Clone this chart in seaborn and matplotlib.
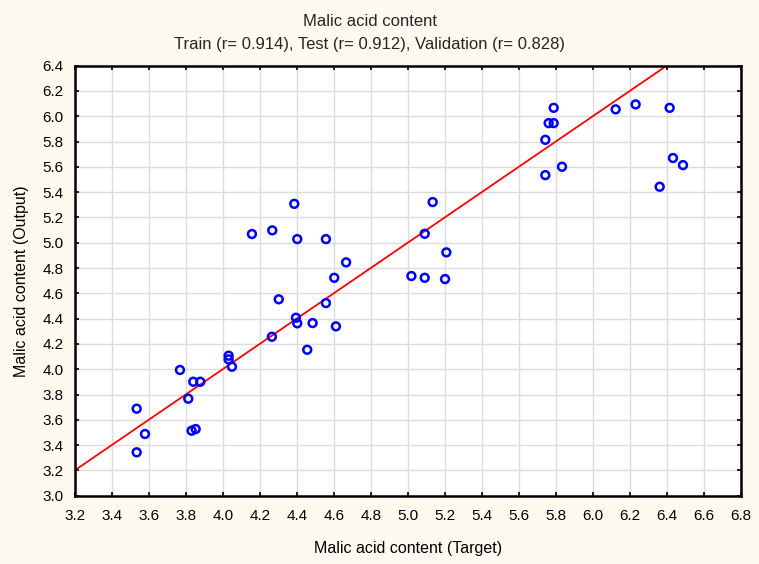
import matplotlib
matplotlib.use("Agg")
import matplotlib.pyplot as plt
import seaborn as sns
import pandas as pd
import numpy as np

target = [4.158, 4.268, 4.387, 4.403,
          3.535, 3.535, 3.580, 3.769, 3.814, 3.841, 3.879, 3.832, 3.854,
          4.032, 4.032, 4.050, 4.266, 4.303, 4.396, 4.403, 4.457, 4.486,
          4.558, 4.667, 4.603, 4.558, 4.612,
          5.135, 5.092, 5.209, 5.020, 5.092, 5.202,
          5.789, 5.762, 5.789, 5.744, 5.834, 5.744,
          6.124, 6.232, 6.416, 6.434, 6.488, 6.362]
output = [5.069, 5.098, 5.308, 5.029,
          3.688, 3.343, 3.488, 3.994, 3.767, 3.901, 3.901, 3.514, 3.527,
          4.107, 4.078, 4.020, 4.257, 4.553, 4.407, 4.363, 4.154, 4.365,
          5.029, 4.845, 4.723, 4.523, 4.339,
          5.322, 5.071, 4.924, 4.737, 4.723, 4.713,
          6.067, 5.946, 5.946, 5.814, 5.601, 5.535,
          6.055, 6.094, 6.067, 5.670, 5.614, 5.443]
fit_x = [3.2, 6.4]
fit_y = [3.2, 6.4]
x_ticks = [3.2, 3.4, 3.6, 3.8, 4.0, 4.2, 4.4, 4.6, 4.8, 5.0, 5.2, 5.4, 5.6, 5.8, 6.0, 6.2, 6.4, 6.6, 6.8]
y_ticks = [3.0, 3.2, 3.4, 3.6, 3.8, 4.0, 4.2, 4.4, 4.6, 4.8, 5.0, 5.2, 5.4, 5.6, 5.8, 6.0, 6.2, 6.4]

sns.set_theme(style="white")
plt.rcParams['font.family'] = ['Liberation Sans Narrow', 'Liberation Sans', 'DejaVu Sans']

bg = "#fefaf0"
fig = plt.figure(figsize=(7.59, 5.64), dpi=100, facecolor=bg)
ax = fig.add_axes([0.0984, 0.1211, 0.8775, 0.7624])
ax.set_facecolor("white")

df = pd.DataFrame({"Target": target, "Output": output})
sns.lineplot(x=fit_x, y=fit_y, ax=ax, color="#ff0000", linewidth=1.3, zorder=2)
sns.scatterplot(data=df, x="Target", y="Output", ax=ax, marker="o", s=32,
                facecolor="none", edgecolor="#0000ff", linewidth=1.8, zorder=3)

ax.set_xlim(3.2, 6.8)
ax.set_ylim(3.0, 6.4)
ax.set_xticks(x_ticks)
ax.set_yticks(y_ticks)
ax.set_xticklabels([f"{v:.1f}" for v in x_ticks])
ax.set_yticklabels([f"{v:.1f}" for v in y_ticks])
ax.grid(True, color="#dcdcdc", linewidth=1.0, zorder=0)
ax.set_axisbelow(True)
ax.tick_params(direction="in", length=3, width=1.2, color="black",
               top=True, right=True, bottom=True, left=True,
               labelsize=11, labelcolor="black")
ax.tick_params(axis="x", pad=9.5)
ax.tick_params(axis="y", pad=8)
for sp in ax.spines.values():
    sp.set_visible(True)
    sp.set_color("black")
    sp.set_linewidth(1.8)

ax.set_xlabel("Malic acid content (Target)", fontsize=11.5, labelpad=13, color="black")
ax.set_ylabel("Malic acid content (Output)", fontsize=11.5, labelpad=10, color="black")
fig.text(0.487, 0.962, "Malic acid content", ha="center", va="center", fontsize=12)
fig.text(0.487, 0.921, "Train (r= 0.914), Test (r= 0.912), Validation (r= 0.828)",
         ha="center", va="center", fontsize=12)

fig.savefig("out.png", dpi=100, facecolor=bg)
